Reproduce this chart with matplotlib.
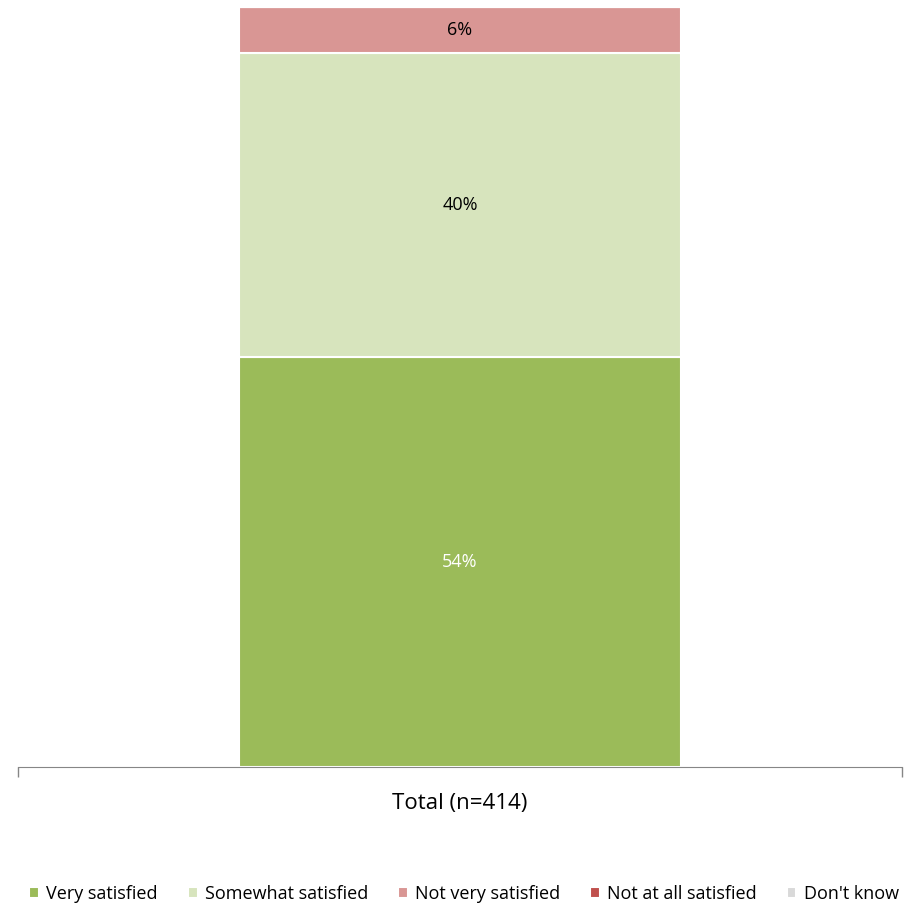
import numpy as np
import matplotlib.pyplot as plt

# ==== 数据 ====
categories = ['Total (n=414)']
series_names = ['Very satisfied', 'Somewhat satisfied', 'Not very satisfied',
                'Not at all satisfied', "Don't know"]
values = [54, 40, 6, 0, 0]
colors = ['#9BBB59', '#D7E4BD', '#D99694', '#C0504D', '#D9D9D9']
label_colors = ['white', 'black', 'black', 'black', 'black']

plt.rcParams['font.family'] = ['Open Sans', 'DejaVu Sans']

fig = plt.figure(figsize=(9.05, 9.06), dpi=100)
ax = fig.add_axes([18 / 905, 1 - 767 / 906, 884 / 905, 760 / 906])

x = np.arange(len(categories))
bottom = 0
for name, v, c, lc in zip(series_names, values, colors, label_colors):
    ax.bar(x, v, width=0.5, bottom=bottom, color=c, edgecolor='white',
           linewidth=1.5, label=name)
    if v > 0:
        ax.text(x[0], bottom + v / 2, f'{v}%', ha='center', va='center',
                color=lc, fontsize=13)
    bottom += v

ax.set_xlim(-0.5, 0.5)
ax.set_ylim(0, 100)
ax.set_yticks([])
ax.set_xticks([-0.5, 0.5])
ax.set_xticklabels(['', ''])
ax.tick_params(axis='x', length=7, color='#868686', width=1)
ax.text(0, -4.8, categories[0], ha='center', va='center', fontsize=16)
for s in ['top', 'left', 'right']:
    ax.spines[s].set_visible(False)
ax.spines['bottom'].set_color('#868686')

fig.legend(loc='center', bbox_to_anchor=(464 / 905, 1 - 894 / 906), ncol=5,
           frameon=False, fontsize=13, handlelength=0.55, handleheight=0.55,
           handletextpad=0.4, columnspacing=1.65)

plt.savefig('out.png', dpi=100)
plt.close()
